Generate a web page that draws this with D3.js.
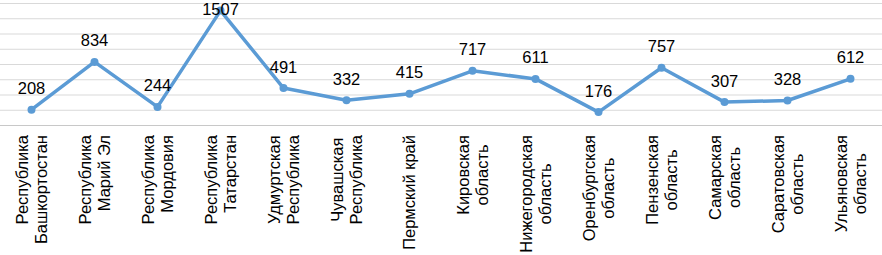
<!DOCTYPE html>
<html>
<head>
<meta charset="utf-8">
<script src="https://cdn.jsdelivr.net/npm/d3@7"></script>
<style>
  body { margin: 0; background: #fff; }
  text { font-family: "Liberation Sans", Arial, sans-serif; fill: #000; }
</style>
</head>
<body>
<div id="chart"></div>
<script>
// regions (each label split into lines as in the original)
var regions = [
    ["Республика", "Башкортостан"],
    ["Республика", "Марий Эл"],
    ["Республика", "Мордовия"],
    ["Республика", "Татарстан"],
    ["Удмуртская", "Республика"],
    ["Чувашская", "Республика"],
    ["Пермский край"],
    ["Кировская", "область"],
    ["Нижегородская", "область"],
    ["Оренбургская", "область"],
    ["Пензенская", "область"],
    ["Самарская", "область"],
    ["Саратовская", "область"],
    ["Ульяновская", "область"]
]
var values = [208, 834, 244, 1507, 491, 332, 415, 717, 611, 176, 757, 307, 328, 612]
var gridTicks = [0, 200, 400, 600, 800, 1000, 1200, 1400, 1600]

var width = 882, height = 255
var color = "#5b9bd5"
var fontSize = 16.5

var svg = d3.select("#chart").append("svg")
    .attr("width", width)
    .attr("height", height)

var xScale = d3.scaleBand().domain(d3.range(values.length)).range([0, width])
var yScale = d3.scaleLinear().domain([0, 1600]).range([125.5, 3.5])

// horizontal gridlines
svg.append("g")
    .selectAll("line")
    .data(gridTicks)
    .enter().append("line")
    .attr("x1", 0)
    .attr("x2", width)
    .attr("y1", function(d) { return yScale(d) })
    .attr("y2", function(d) { return yScale(d) })
    .attr("stroke", function(d) { return d == 0 ? "#c8c8c8" : "#d9d9d9" })
    .attr("stroke-width", 1)

var cx = function(i) { return xScale(i) + xScale.bandwidth() / 2 }

var lineGen = d3.line()
    .x(function(d, i) { return cx(i) })
    .y(function(d) { return yScale(d) })

svg.append("path")
    .attr("d", lineGen(values))
    .attr("fill", "none")
    .attr("stroke", color)
    .attr("stroke-width", 3.5)
    .attr("stroke-linejoin", "round")

svg.selectAll("circle.pt")
    .data(values)
    .enter().append("circle")
    .attr("class", "pt")
    .attr("cx", function(d, i) { return cx(i) })
    .attr("cy", function(d) { return yScale(d) })
    .attr("r", 4)
    .attr("fill", color)

// data labels above the points (kept inside the plot at the top)
svg.selectAll("text.val")
    .data(values)
    .enter().append("text")
    .attr("class", "val")
    .attr("x", function(d, i) { return cx(i) })
    .attr("y", function(d) { return Math.max(yScale(d) - 15.5, 14.5) })
    .attr("text-anchor", "middle")
    .style("font-size", fontSize + "px")
    .text(function(d) { return d })

// rotated category labels
var topY = 135
var pitch = 19.5
regions.forEach(function(lines, i) {
    var g = svg.append("g")
    var texts = lines.map(function(s, k) {
        var bx = cx(i) + (k - (lines.length - 1) / 2) * pitch + fontSize * 0.36
        return g.append("text")
            .attr("transform", "translate(" + bx + ",0) rotate(-90)")
            .style("font-size", fontSize + "px")
            .text(s)
    })
    var lens = texts.map(function(t) { return t.node().getComputedTextLength() })
    var maxLen = d3.max(lens)
    var topAlign = lines[0] == "Республика"
    texts.forEach(function(t, k) {
        if (topAlign) {
            t.attr("x", -topY).attr("text-anchor", "end")
        } else {
            t.attr("x", -(topY + maxLen / 2)).attr("text-anchor", "middle")
        }
    })
})
</script>
</body>
</html>
